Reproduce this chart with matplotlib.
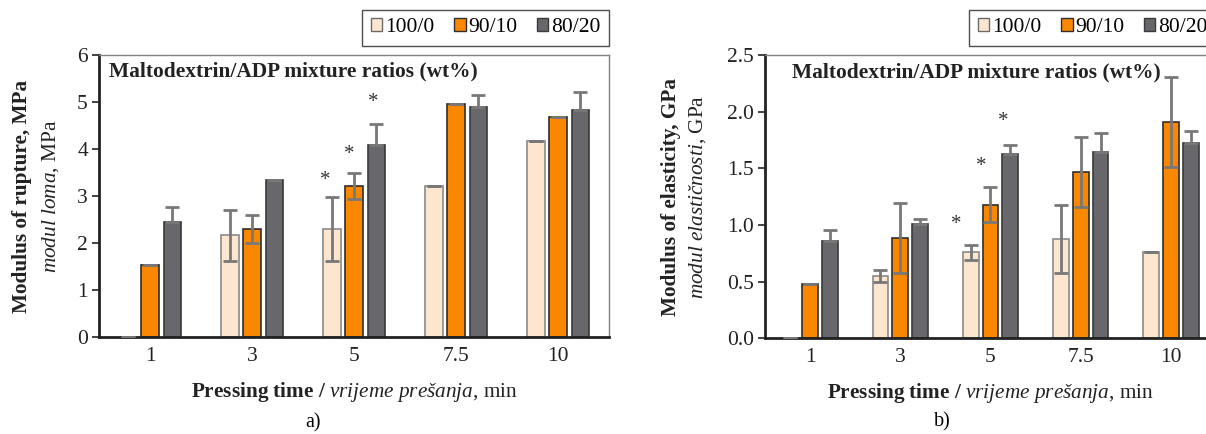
import numpy as np
import matplotlib.pyplot as plt
from matplotlib.patches import Patch

plt.rcParams['font.family'] = ['Liberation Serif', 'DejaVu Serif']
plt.rcParams['mathtext.fontset'] = 'custom'
plt.rcParams['mathtext.rm'] = 'Liberation Serif'
plt.rcParams['mathtext.it'] = 'Liberation Serif:italic'
plt.rcParams['mathtext.bf'] = 'Liberation Serif:bold'

# Podaci
times = ['1', '3', '5', '7.5', '10']
series = ['100/0', '90/10', '80/20']
colors = ['#fde6cf', '#f98800', '#68686c']
edges = ['#8a8a8a', '#2e2e2e', '#3a3a3a']

# a) modulus of rupture, MPa
mor_100 = [0.0, 2.16, 2.30, 3.22, 4.17]
mor_90 = [1.53, 2.30, 3.21, 4.95, 4.69]
mor_80 = [2.44, 3.33, 4.08, 4.89, 4.82]
mor_err_100 = [0.0, 0.54, 0.68, 0.0, 0.0]
mor_err_90 = [0.0, 0.29, 0.27, 0.0, 0.0]
mor_err_80 = [0.32, 0.0, 0.45, 0.26, 0.39]
mor_star_height = [3.34, 3.89, 4.99]   # zvjezdice kod 5 min

# b) modulus of elasticity, GPa
moe_100 = [0.0, 0.55, 0.76, 0.875, 0.765]
moe_90 = [0.475, 0.885, 1.18, 1.47, 1.91]
moe_80 = [0.86, 1.005, 1.625, 1.645, 1.72]
moe_err_100 = [0.0, 0.05, 0.065, 0.30, 0.0]
moe_err_90 = [0.0, 0.31, 0.155, 0.31, 0.40]
moe_err_80 = [0.10, 0.05, 0.08, 0.17, 0.11]
moe_star_height = [1.00, 1.515, 1.915]

fig = plt.figure(figsize=(12.06, 4.34), dpi=100)
ax1 = fig.add_axes([0.0821, 0.2235, 0.4229, 0.6498])
ax2 = fig.add_axes([0.6343, 0.2205, 0.3740, 0.6528])

x = np.arange(len(times))
offs = [-0.22, 0.0, 0.22]
w = 0.175


def panel(ax, vals, errs, stars, star_dx, ymax, step, fmt, ylab1, ylab2, lab_x, title_x):
    for k in range(3):
        ax.bar(x + offs[k], vals[k], w, color=colors[k], edgecolor=edges[k],
               linewidth=1.2, zorder=2)
        e = np.array(errs[k])
        yerr = [np.zeros_like(e), e] if k == 2 else e
        ax.errorbar(x + offs[k], vals[k], yerr=yerr, fmt='none', ecolor='#787878',
                    elinewidth=2, capsize=5, capthick=2, zorder=3)
    # zvjezdice
    for k in range(3):
        ax.text(2 + offs[k] + star_dx[k], stars[k], '*', ha='center', va='center',
                fontsize=15, color='#333333')
    ax.set_xlim(-0.5, 4.5)
    ax.set_ylim(0, ymax)
    ax.set_yticks(np.arange(0, ymax + step / 2, step))
    ax.yaxis.set_major_formatter(plt.FormatStrFormatter(fmt))
    ax.set_xticks(x)
    ax.set_xticklabels(times)
    ax.tick_params(axis='x', length=0, pad=7, labelsize=15.5, colors='#222222')
    ax.tick_params(axis='y', length=5, width=1.2, direction='out', labelsize=15.5,
                   colors='#222222', pad=3)
    for s in ['left', 'bottom']:
        ax.spines[s].set_linewidth(2)
        ax.spines[s].set_color('#222222')
    for s in ['top', 'right']:
        ax.spines[s].set_linewidth(1)
        ax.spines[s].set_color('#808080')
    ax.text(title_x, 0.94, 'Maltodextrin/ADP mixture ratios (wt%)', transform=ax.transAxes,
            ha='left', va='center', fontsize=15.4, fontweight='bold', color='#222222')
    ax.set_xlabel(r'$\mathbf{Pressing\ time\ /}$ $\mathit{vrijeme\ prešanja}$, min',
                  fontsize=15.3, labelpad=10, color='#222222')
    ax.text(lab_x[0], 0.5, ylab1, transform=ax.transAxes, rotation=90, ha='center',
            va='center', fontsize=15.3, fontweight='bold', color='#222222')
    ax.text(lab_x[1], 0.5, ylab2, transform=ax.transAxes, rotation=90, ha='center',
            va='center', fontsize=15.3, color='#222222')
    handles = [Patch(facecolor=colors[k], edgecolor=edges[k] if k else '#6a6a6a')
               for k in range(3)]
    ax.legend(handles, series, loc='lower right', bbox_to_anchor=(1.0, 1.032),
              ncol=3, frameon=True, fancybox=False, edgecolor='#222222',
              fontsize=15.5, handlelength=0.55, handleheight=0.55, handletextpad=0.12,
              columnspacing=0.9, borderpad=0.4, borderaxespad=0)


panel(ax1, [mor_100, mor_90, mor_80], [mor_err_100, mor_err_90, mor_err_80],
      mor_star_height, [-0.065, -0.05, -0.03], 6, 1, '%d',
      'Modulus of rupture, MPa', r'$\mathit{modul\ loma}$, MPa', (-0.151, -0.096), 0.02)
panel(ax2, [moe_100, moe_90, moe_80], [moe_err_100, moe_err_90, moe_err_80],
      moe_star_height, [-0.16, -0.10, -0.08], 2.5, 0.5, '%.1f',
      'Modulus of elasticity, GPa', r'$\mathit{modul\ elastičnosti}$, GPa',
      (-0.208, -0.149), 0.06)

fig.text(313 / 1206, 1 - 423 / 434, 'a)', ha='center', va='center', fontsize=14.5)
fig.text(942 / 1206, 1 - 422 / 434, 'b)', ha='center', va='center', fontsize=14.5)

fig.savefig('out.png', dpi=100)
